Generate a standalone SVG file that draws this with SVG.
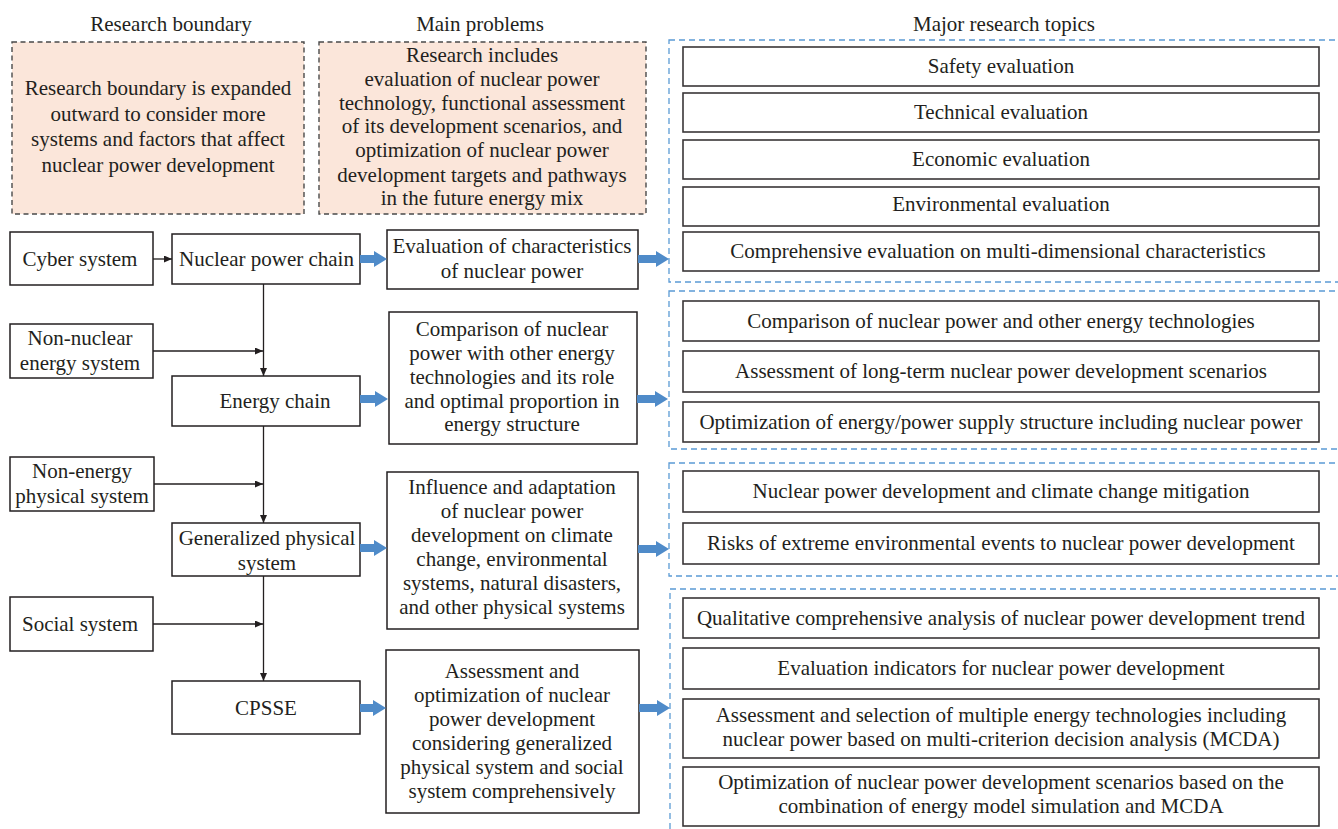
<svg xmlns="http://www.w3.org/2000/svg" width="1338" height="829" viewBox="0 0 1338 829">
<style>
text{font-family:"Liberation Serif","Times New Roman",serif;font-size:21px;fill:#231f20;text-anchor:middle}
.box{fill:#fff;stroke:#231f20;stroke-width:1.5}
.topic{fill:#fff;stroke:#3a3637;stroke-width:1.6}
.peach{fill:#fbe6da;stroke:#4a4a4a;stroke-width:1.4;stroke-dasharray:5 3.5}
.grp{fill:none;stroke:#5b9bd5;stroke-width:1.3;stroke-dasharray:6 4}
.thin{stroke:#231f20;stroke-width:1.3;fill:none;marker-end:url(#ah)}
.blue{fill:#4f8bc9}
</style>
<defs>
<marker id="ah" markerUnits="userSpaceOnUse" markerWidth="9" markerHeight="8" refX="8" refY="3.5" orient="auto">
<path d="M0,0 L8,3.5 L0,7 z" fill="#231f20"/>
</marker>
</defs>

<g id="headers">
<text x="171" y="31">Research boundary</text>
<text x="480" y="31">Main problems</text>
<text x="1004" y="31">Major research topics</text>
</g>

<g id="groups">
<rect class="grp" x="669" y="40" width="680" height="242"/>
<rect class="grp" x="669" y="291" width="680" height="158"/>
<rect class="grp" x="669" y="463" width="680" height="113"/>
<rect class="grp" x="670" y="589" width="680" height="250"/>
</g>

<g id="boundary-note">
<rect class="peach" x="12" y="42" width="292" height="172"/>
<text x="158" y="95">Research boundary is expanded</text>
<text x="158" y="121">outward to consider more</text>
<text x="158" y="146">systems and factors that affect</text>
<text x="158" y="172">nuclear power development</text>
</g>

<g id="problems-note">
<rect class="peach" x="319" y="42" width="327" height="172"/>
<text x="482" y="62">Research includes</text>
<text x="482" y="86">evaluation of nuclear power</text>
<text x="482" y="110">technology, functional assessment</text>
<text x="482" y="133">of its development scenarios, and</text>
<text x="482" y="157">optimization of nuclear power</text>
<text x="482" y="182">development targets and pathways</text>
<text x="482" y="205">in the future energy mix</text>
</g>

<g id="cyber-system">
<rect class="box" x="10" y="232" width="143" height="53"/>
<text x="80" y="266">Cyber system</text>
</g>
<g id="nuclear-power-chain">
<rect class="box" x="172" y="234" width="188" height="50"/>
<text x="266.5" y="266">Nuclear power chain</text>
</g>
<g id="non-nuclear-energy-system">
<rect class="box" x="10" y="324" width="143" height="54"/>
<text x="80" y="345">Non-nuclear</text>
<text x="80" y="370">energy system</text>
</g>
<g id="energy-chain">
<rect class="box" x="172" y="376" width="188" height="50"/>
<text x="275" y="408">Energy chain</text>
</g>
<g id="non-energy-physical-system">
<rect class="box" x="10" y="457" width="144" height="54"/>
<text x="82" y="478">Non-energy</text>
<text x="82" y="503">physical system</text>
</g>
<g id="generalized-physical-system">
<rect class="box" x="172" y="523" width="188" height="53"/>
<text x="267" y="545">Generalized physical</text>
<text x="267" y="570">system</text>
</g>
<g id="social-system">
<rect class="box" x="10" y="597" width="143" height="54"/>
<text x="80" y="631">Social system</text>
</g>
<g id="cpsse">
<rect class="box" x="172" y="681" width="188" height="53"/>
<text x="266" y="715">CPSSE</text>
</g>

<g id="problem-characteristics">
<rect class="box" x="387" y="230" width="251" height="59"/>
<text x="512" y="253">Evaluation of characteristics</text>
<text x="512" y="278">of nuclear power</text>
</g>
<g id="problem-comparison">
<rect class="box" x="389" y="312" width="248" height="132"/>
<text x="512" y="336">Comparison of nuclear</text>
<text x="512" y="360">power with other energy</text>
<text x="512" y="384">technologies and its role</text>
<text x="512" y="408">and optimal proportion in</text>
<text x="512" y="431">energy structure</text>
</g>
<g id="problem-influence">
<rect class="box" x="387" y="472" width="251" height="157"/>
<text x="512" y="494">Influence and adaptation</text>
<text x="512" y="518">of nuclear power</text>
<text x="512" y="542">development on climate</text>
<text x="512" y="566">change, environmental</text>
<text x="512" y="590">systems, natural disasters,</text>
<text x="512" y="614">and other physical systems</text>
</g>
<g id="problem-assessment">
<rect class="box" x="386" y="650" width="253" height="163"/>
<text x="512" y="678">Assessment and</text>
<text x="512" y="702">optimization of nuclear</text>
<text x="512" y="726">power development</text>
<text x="512" y="750">considering generalized</text>
<text x="512" y="774">physical system and social</text>
<text x="512" y="798">system comprehensively</text>
</g>

<g id="topic-safety"><rect class="topic" x="683" y="47" width="636" height="39"/><text x="1001" y="73">Safety evaluation</text></g>
<g id="topic-technical"><rect class="topic" x="683" y="93" width="636" height="39"/><text x="1001" y="119">Technical evaluation</text></g>
<g id="topic-economic"><rect class="topic" x="683" y="140" width="636" height="39"/><text x="1001" y="166">Economic evaluation</text></g>
<g id="topic-environmental"><rect class="topic" x="683" y="187" width="636" height="39"/><text x="1001" y="211">Environmental evaluation</text></g>
<g id="topic-comprehensive"><rect class="topic" x="683" y="232" width="636" height="39"/><text x="998" y="258">Comprehensive evaluation on multi-dimensional characteristics</text></g>

<g id="topic-comparison"><rect class="topic" x="683" y="301" width="636" height="40"/><text x="1001" y="328">Comparison of nuclear power and other energy technologies</text></g>
<g id="topic-longterm"><rect class="topic" x="683" y="351" width="636" height="41"/><text x="1001" y="378">Assessment of long-term nuclear power development scenarios</text></g>
<g id="topic-supply"><rect class="topic" x="683" y="402" width="636" height="40"/><text x="1001" y="429">Optimization of energy/power supply structure including nuclear power</text></g>

<g id="topic-climate"><rect class="topic" x="683" y="471" width="636" height="41"/><text x="1001" y="498">Nuclear power development and climate change mitigation</text></g>
<g id="topic-risks"><rect class="topic" x="683" y="523" width="636" height="41"/><text x="1001" y="550">Risks of extreme environmental events to nuclear power development</text></g>

<g id="topic-qualitative"><rect class="topic" x="683" y="598" width="636" height="40"/><text x="1001" y="625">Qualitative comprehensive analysis of nuclear power development trend</text></g>
<g id="topic-indicators"><rect class="topic" x="683" y="648" width="636" height="41"/><text x="1001" y="675">Evaluation indicators for nuclear power development</text></g>
<g id="topic-mcda"><rect class="topic" x="683" y="699" width="636" height="59"/><text x="1001" y="722">Assessment and selection of multiple energy technologies including</text><text x="1001" y="746">nuclear power based on multi-criterion decision analysis (MCDA)</text></g>
<g id="topic-scenarios"><rect class="topic" x="683" y="767" width="636" height="59"/><text x="1001" y="789">Optimization of nuclear power development scenarios based on the</text><text x="1001" y="813">combination of energy model simulation and MCDA</text></g>

<g id="connectors">
<line class="thin" x1="153" y1="259" x2="172" y2="259"/>
<line class="thin" x1="263.5" y1="284" x2="263.5" y2="376"/>
<line class="thin" x1="153" y1="351" x2="263" y2="351"/>
<line class="thin" x1="263.5" y1="426" x2="263.5" y2="523"/>
<line class="thin" x1="154" y1="484" x2="263" y2="484"/>
<line class="thin" x1="263.5" y1="576" x2="263.5" y2="681"/>
<line class="thin" x1="153" y1="624" x2="263" y2="624"/>
<polygon class="blue" points="360,255 374,255 374,251 387,259 374,267 374,263 360,263"/>
<polygon class="blue" points="638,255 656,255 656,251 669,259 656,267 656,263 638,263"/>
<polygon class="blue" points="360,395 375,395 375,391 388,399 375,407 375,403 360,403"/>
<polygon class="blue" points="637,395 655,395 655,391 668,399 655,407 655,403 637,403"/>
<polygon class="blue" points="360,544 374,544 374,540 387,548 374,556 374,552 360,552"/>
<polygon class="blue" points="638,545 656,545 656,541 669,549 656,557 656,553 638,553"/>
<polygon class="blue" points="360,704 373,704 373,700 386,708 373,716 373,712 360,712"/>
<polygon class="blue" points="639,704 657,704 657,700 670,708 657,716 657,712 639,712"/>
</g>
</svg>
